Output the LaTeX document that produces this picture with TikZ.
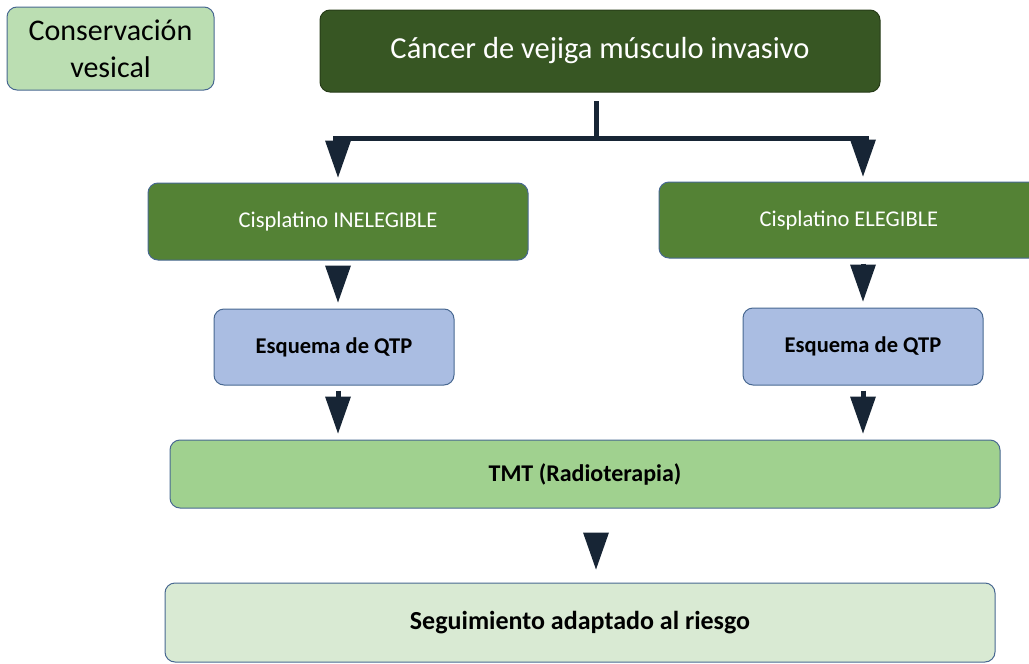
\documentclass[tikz,border=0pt]{standalone}
\usepackage{fontspec}
\setmainfont{Carlito}
\usetikzlibrary{arrows.meta}

\definecolor{consfill}{RGB}{187,222,178}
\definecolor{topfill}{RGB}{55,86,35}
\definecolor{cisfill}{RGB}{84,130,53}
\definecolor{qtpfill}{RGB}{170,189,226}
\definecolor{tmtfill}{RGB}{160,209,143}
\definecolor{segfill}{RGB}{217,234,211}
\definecolor{boxline}{RGB}{72,104,145}
\definecolor{arrowc}{RGB}{23,37,53}

\begin{document}
\begin{tikzpicture}[x=1pt, y=-1pt,
    box/.style={draw=boxline, line width=1pt, rounded corners=10pt, inner sep=0pt, align=center},
    arr/.style={draw=arrowc, line width=5pt, -{Triangle[length=37pt,width=26pt,line width=0pt]}, shorten >=6pt, shorten <=5pt},
    bar/.style={draw=arrowc, line width=5pt, line cap=rect}]
  \useasboundingbox (0,0) rectangle (1029,664);

  \node[box, fill=consfill, minimum width=207pt, minimum height=83pt,
        font=\fontsize{30}{37}\selectfont] (cons) at (110.5,48.5) {Conservación\\vesical};
  \node[box, fill=topfill, draw=topfill!70!black, text=white, minimum width=560pt, minimum height=82pt,
        font=\fontsize{30.5}{36}\selectfont] (top) at (600,51) {Cáncer de vejiga músculo invasivo};

  \node[box, fill=cisfill, text=white, minimum width=380pt, minimum height=77pt,
        font=\fontsize{22.5}{27}\selectfont] (cisL) at (338,221.5) {Cisplatino INELEGIBLE};
  \node[box, fill=cisfill, text=white, minimum width=380pt, minimum height=76pt,
        font=\fontsize{22.5}{27}\selectfont] (cisR) at (849,220) {Cisplatino ELEGIBLE};

  \node[box, fill=qtpfill, minimum width=240pt, minimum height=76pt,
        font=\fontsize{22.5}{27}\selectfont\bfseries] (qtpL) at (334,347) {Esquema de QTP};
  \node[box, fill=qtpfill, minimum width=240pt, minimum height=77pt,
        font=\fontsize{22.5}{27}\selectfont\bfseries] (qtpR) at (863,346.5) {Esquema de QTP};

  \node[box, fill=tmtfill, minimum width=830pt, minimum height=68pt,
        font=\fontsize{24}{29}\selectfont\bfseries] (tmt) at (585,474) {TMT (Radioterapia)};
  \node[box, fill=segfill, minimum width=830pt, minimum height=79pt,
        font=\fontsize{26}{31}\selectfont\bfseries] (seg) at (580,622.5) {Seguimiento adaptado al riesgo};

  % split below the title
  \coordinate (split) at (596,138);
  \draw[bar] ([yshift=-11pt]split |- top.south) -- (split);
  \draw[bar] ([xshift=-3pt]split -| cisL) -- ([xshift=3pt]split -| qtpR);
  \draw[arr, shorten <=0pt, shorten >=5pt] (split -| cisL) -- (cisL.north);
  \draw[arr, shorten <=0pt, shorten >=5pt] (split -| qtpR) -- (qtpR |- cisR.north);

  \draw[arr] (cisL.south) -- (cisL.south |- qtpL.north);
  \draw[arr] (qtpR |- cisR.south) -- (qtpR.north);
  \draw[arr] (cisL |- qtpL.south) -- (cisL |- tmt.north);
  \draw[arr] (qtpR.south) -- (qtpR |- tmt.north);
  \draw[arr, shorten <=25pt, shorten >=13pt] (split |- tmt.south) -- (split |- seg.north);
\end{tikzpicture}
\end{document}
